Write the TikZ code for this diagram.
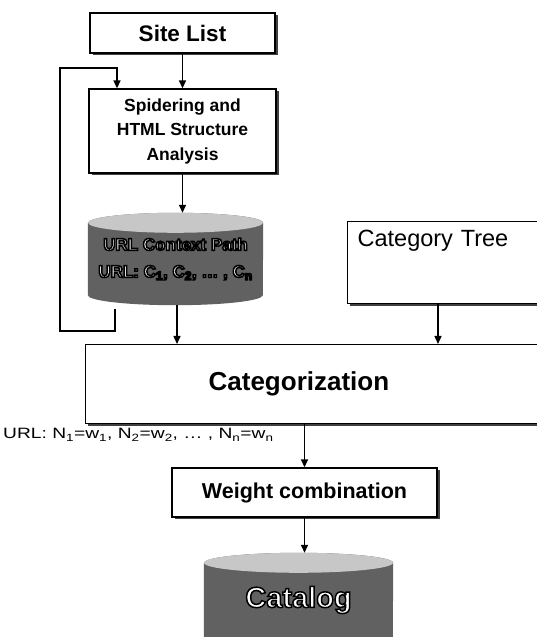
\documentclass[tikz,border=0pt]{standalone}
\usepackage{fontspec}
\setmainfont{Liberation Sans}
\newfontfamily\labelfont[FakeStretch=1.28]{Liberation Sans}
\usetikzlibrary{arrows.meta,shadows,calc}
\pgfdeclarelayer{bg}
\pgfsetlayers{bg,main}
\newcommand{\outl}[1]{\special{pdf:literal direct 2 Tr 1.5 w 0 G}#1\special{pdf:literal direct 0 Tr}}
\begin{document}
\begin{tikzpicture}[x=1pt,y=1pt,
  box/.style={draw, line width=1.3pt, fill=white, inner sep=0pt,
    drop shadow={shadow xshift=2.5pt, shadow yshift=-2.5pt, fill=black!75, opacity=1}},
  arr/.style={line width=1.4pt, -{Triangle[length=8pt,width=7pt]}},
  cyltext/.style={inner sep=0pt, text=white, align=center},
  cylbody/.style={fill=black!62},
  cyltop/.style={fill=black!22}]
\useasboundingbox (0,0) rectangle (537,637);
\clip (0,0) rectangle (537,637);

\node[box, minimum width=185pt, minimum height=40pt,
  font=\bfseries\fontsize{22.5}{24}\selectfont] (site) at (182.5,604) {Site List};
\node[box, minimum width=187pt, minimum height=84pt, align=center,
  font=\bfseries\fontsize{17.5}{24.5}\selectfont] (spider) at (182.5,506)
  {Spidering and\\HTML Structure\\Analysis};
\node[cyltext, minimum width=175pt, minimum height=92pt,
  font=\bfseries\fontsize{17}{27}\selectfont] (urlcp) at (175.5,378)
  {\outl{URL Context Path}\\\outl{URL: C\textsubscript{1}, C\textsubscript{2}, \dots\ , C\textsubscript{n}}};
\node[box, anchor=north west, text width=190pt, inner xsep=10pt, inner ysep=0pt,
  text height=24.5pt, text depth=57.5pt, align=left,
  font=\fontsize{23.5}{26}\selectfont] (ctree) at (347,416) {Category Tree};
\node[box, anchor=north west, text width=229pt, inner xsep=123pt, inner ysep=0pt,
  minimum height=79pt, align=left,
  font=\bfseries\fontsize{26}{28}\selectfont] (categ) at (85,293) {Categorization};
\node[anchor=west, inner sep=0pt, font=\labelfont\fontsize{15}{17}\selectfont] (lbl) at (3,202)
  {URL: N\textsubscript{1}=w\textsubscript{1}, N\textsubscript{2}=w\textsubscript{2}, \dots\ , N\textsubscript{n}=w\textsubscript{n}};
\node[box, minimum width=265pt, minimum height=49pt,
  font=\bfseries\fontsize{21.5}{24}\selectfont] (weight) at (304.5,144.5) {Weight combination};
\node[cyltext, minimum width=189pt, minimum height=94pt,
  font=\bfseries\fontsize{29}{32}\selectfont] (catalog) at (298.5,37) {\outl{Catalog}};

\begin{pgfonlayer}{bg}
  \clip (0,0) rectangle (537,637);
  \fill[cylbody] ($(urlcp.north west)+(0,-10)$) -- ($(urlcp.south west)+(0,10)$)
    arc[start angle=180,end angle=360,x radius=87.5,y radius=10]
    -- ($(urlcp.north east)+(0,-10)$)
    arc[start angle=0,end angle=180,x radius=87.5,y radius=10] -- cycle;
  \fill[cyltop] ($(urlcp.north)+(0,-10)$) ellipse[x radius=87.5,y radius=10];
  \fill[cylbody] ($(catalog.north west)+(0,-10)$) -- ($(catalog.south west)+(0,10)$)
    arc[start angle=180,end angle=360,x radius=94.5,y radius=10]
    -- ($(catalog.north east)+(0,-10)$)
    arc[start angle=0,end angle=180,x radius=94.5,y radius=10] -- cycle;
  \fill[cyltop] ($(catalog.north)+(0,-10)$) ellipse[x radius=94.5,y radius=10];
\end{pgfonlayer}

\coordinate (loopstart) at (115,328);
\coordinate (loopbl) at (60,306);
\coordinate (loopin) at (117,569);
\coordinate (cx1) at (177,0);
\coordinate (cx2) at (438,0);

\draw[arr] (site.south) -- (spider.north);
\draw[arr] (spider.south) -- (spider.south |- urlcp.north);
\draw[arr] (loopstart) |- (loopbl) |- (loopin) -- (loopin |- spider.north);
\draw[arr] (urlcp.south -| cx1) -- (cx1 |- categ.north);
\draw[arr] (ctree.south -| cx2) -- (cx2 |- categ.north);
\draw[arr] (categ.south -| weight.north) -- (weight.north);
\draw[arr] (weight.south) -- (weight.south |- catalog.north);
\end{tikzpicture}
\end{document}
